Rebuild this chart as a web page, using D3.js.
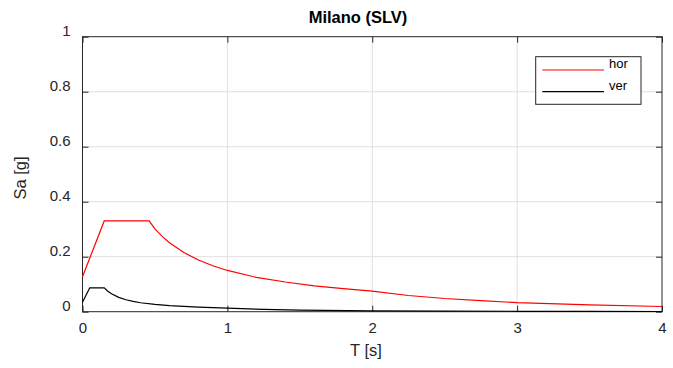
<!DOCTYPE html>
<html>
<head>
<meta charset="utf-8">
<script src="https://cdn.jsdelivr.net/npm/d3@7"></script>
<style>
  html, body { margin: 0; padding: 0; background: #fff; }
  svg { display: block; font-family: "Liberation Sans", Arial, Helvetica, sans-serif; }
</style>
</head>
<body>
<svg id="chart" width="673" height="368"></svg>
<script>
// ---- Data ----
const titleText = "Milano (SLV)";
const xLabel = "T [s]";
const yLabel = "Sa [g]";
const xTicks = [0, 1, 2, 3, 4];
const yTicks = [0, 0.2, 0.4, 0.6, 0.8, 1];
const seriesNames = ["hor", "ver"];
const seriesColors = ["#ff0000", "#000000"];

const horT  = [0, 0.15, 0.46, 0.5, 0.55, 0.6, 0.7, 0.8, 0.9, 1.0, 1.2, 1.4, 1.6, 1.8, 2.0, 2.25, 2.5, 2.75, 3.0, 3.5, 4.0];
const horSa = [0.127, 0.330, 0.330, 0.301, 0.274, 0.251, 0.215, 0.188, 0.167, 0.150, 0.125, 0.108, 0.094, 0.084, 0.075, 0.059, 0.048, 0.040, 0.033, 0.025, 0.019];

const verT  = [0, 0.05, 0.15, 0.175, 0.2, 0.25, 0.3, 0.35, 0.4, 0.5, 0.6, 0.8, 1.0, 1.25, 1.5, 2.0, 2.5, 3.0, 3.5, 4.0];
const verSa = [0.034, 0.087, 0.087, 0.0746, 0.0653, 0.0522, 0.0435, 0.0373, 0.0326, 0.0268, 0.0222, 0.0165, 0.0131, 0.0084, 0.0058, 0.0033, 0.0021, 0.0015, 0.0011, 0.0008];

// ---- Layout ----
const L = 82.5, R = 662, T = 36.7, B = 311.7;
const axisColor = "#262626";
const gridColor = "#e0e0e0";

const svg = d3.select("#chart");
const x = d3.scaleLinear().domain([0, 4]).range([L, R]);
const y = d3.scaleLinear().domain([0, 1]).range([B, T]);

// Grid
const g = svg.append("g");
g.selectAll(".gx").data(xTicks.filter(d => d > 0 && d < 4)).enter().append("line")
  .attr("x1", d => x(d)).attr("x2", d => x(d)).attr("y1", T).attr("y2", B)
  .attr("stroke", gridColor).attr("stroke-width", 1);
g.selectAll(".gy").data(yTicks.filter(d => d > 0 && d < 1)).enter().append("line")
  .attr("y1", d => y(d)).attr("y2", d => y(d)).attr("x1", L).attr("x2", R)
  .attr("stroke", gridColor).attr("stroke-width", 1);

// Axes with inward ticks via d3 axes
const tickLen = 6;
const xAxisB = d3.axisBottom(x).tickValues(xTicks).tickSize(-tickLen).tickFormat(d3.format("d")).tickPadding(11);
const xAxisT = d3.axisTop(x).tickValues(xTicks).tickSize(-tickLen).tickFormat("");
const yAxisL = d3.axisLeft(y).tickValues(yTicks).tickSize(-tickLen).tickFormat(d => d === 0 ? "0" : (d === 1 ? "1" : d3.format(".1f")(d))).tickPadding(12);
const yAxisR = d3.axisRight(y).tickValues(yTicks).tickSize(-tickLen).tickFormat("");

function styleAxis(sel) {
  sel.select(".domain").attr("stroke", axisColor);
  sel.selectAll(".tick line").attr("stroke", axisColor);
  sel.selectAll(".tick text").attr("fill", axisColor).attr("font-size", "15px")
     .attr("font-family", '"Liberation Sans", Arial, sans-serif');
}
const gxB = svg.append("g").attr("transform", `translate(0,${B})`).call(xAxisB).call(styleAxis);
gxB.selectAll(".tick text").attr("dy", "0.71em");
const gxT = svg.append("g").attr("transform", `translate(0,${T})`).call(xAxisT).call(styleAxis);
const gyL = svg.append("g").attr("transform", `translate(${L},0)`).call(yAxisL).call(styleAxis);
gyL.selectAll(".tick text").attr("dy", "-0.05em");
const gyR = svg.append("g").attr("transform", `translate(${R},0)`).call(yAxisR).call(styleAxis);
svg.selectAll(".domain").attr("d", null);

// Box
svg.append("rect").attr("x", L).attr("y", T).attr("width", R - L).attr("height", B - T)
  .attr("fill", "none").attr("stroke", axisColor).attr("stroke-width", 1);

// Lines
const line = d3.line().x(d => x(d[0])).y(d => y(d[1]));
const horData = horT.map((t, i) => [t, horSa[i]]);
const verData = verT.map((t, i) => [t, verSa[i]]);
svg.append("path").datum(horData).attr("d", line).attr("fill", "none")
  .attr("stroke", seriesColors[0]).attr("stroke-width", 1.2);
svg.append("path").datum(verData).attr("d", line).attr("fill", "none")
  .attr("stroke", seriesColors[1]).attr("stroke-width", 1.2);

// Title and labels
svg.append("text").attr("x", 358).attr("y", 23).attr("text-anchor", "middle")
  .attr("font-size", "16.5px").attr("font-weight", "bold").attr("fill", "#000").text(titleText);
svg.append("text").attr("x", 366).attr("y", 356).attr("text-anchor", "middle")
  .attr("font-size", "16.5px").attr("fill", axisColor).text(xLabel);
svg.append("text").attr("transform", "translate(26,178) rotate(-90)").attr("text-anchor", "middle")
  .attr("font-size", "16.5px").attr("fill", axisColor).text(yLabel);

// Legend
const lg = svg.append("g");
lg.append("rect").attr("x", 535.7).attr("y", 56.7).attr("width", 105.3).attr("height", 47.6)
  .attr("fill", "#fff").attr("stroke", axisColor).attr("stroke-width", 1);
seriesNames.forEach((name, i) => {
  const yy = 70 + i * 21.7;
  lg.append("line").attr("x1", 542.3).attr("x2", 604).attr("y1", yy).attr("y2", yy)
    .attr("stroke", seriesColors[i]).attr("stroke-width", 1.2);
  lg.append("text").attr("x", 609).attr("y", yy - 1.7).attr("font-size", "13px")
    .attr("fill", "#000").text(name);
});
</script>
</body>
</html>
